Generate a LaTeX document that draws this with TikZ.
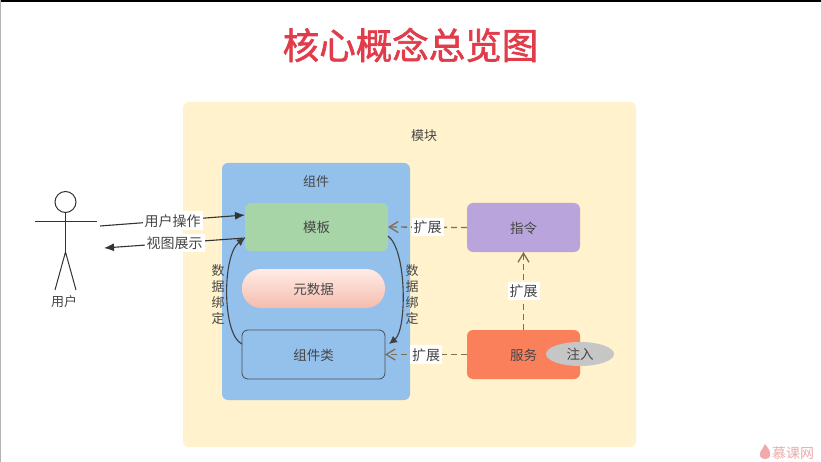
\documentclass[tikz,border=0pt]{standalone}
\usepackage{xcolor}
\usepackage{fontspec}
\usetikzlibrary{arrows.meta,shapes.geometric}
\setmainfont{Noto Sans CJK SC}
\newfontfamily\titlefont[FakeBold=1.6]{Noto Sans CJK SC}
\definecolor{titlered}{RGB}{224, 60, 74}
\definecolor{modulebg}{RGB}{255, 242, 204}
\definecolor{compblue}{RGB}{148, 192, 236}
\definecolor{tplgreen}{RGB}{168, 213, 168}
\definecolor{dirpurple}{RGB}{185, 165, 220}
\definecolor{srvorange}{RGB}{250, 128, 92}
\definecolor{injectgray}{RGB}{198, 198, 198}
\definecolor{inktext}{RGB}{70, 70, 70}
\definecolor{markred}{RGB}{240, 170, 170}
\definecolor{dashbrown}{RGB}{125, 110, 85}
\definecolor{peachtop}{RGB}{255, 236, 230}
\definecolor{peachbottom}{RGB}{245, 188, 174}
\begin{document}
\begin{tikzpicture}[x=1pt, y=-1pt,
    panel/.style={rounded corners=6pt, inner sep=0pt, outer sep=0pt, text=inktext, text height=13pt, text depth=1.5pt, font=\fontsize{13.5}{16}\selectfont},
    txt/.style={text=inktext, inner sep=0pt, align=center, font=\fontsize{13}{16}\selectfont},
    tag/.style={text=inktext, fill=white, inner sep=2pt, text height=13pt, text depth=1.5pt, font=\fontsize{14}{16}\selectfont},
    stickman/.style={draw=black!80, line width=1pt},
    userflow/.style={draw=black!80, line width=1.1pt, -{Latex[length=10pt,width=8pt]}},
    bindflow/.style={draw=black!75, line width=1.1pt, -{Latex[length=8pt,width=8pt]}},
    extendflow/.style={draw=dashbrown, line width=1.3pt, dashed, dash pattern=on 6pt off 4pt, -{Straight Barb[length=9pt,width=11pt]}}]
  \useasboundingbox (0,0) rectangle (821,462);
  \fill[white] (0,0) rectangle (821,462);
  \fill[black] (0,0) rectangle (821,2);
  \fill[gray!60] (0,0) rectangle (1,462);

  \node[titlered, inner sep=0pt, font=\fontsize{36.5}{40}\titlefont] (title) at (410.5,45) {核心概念总览图};

  \node[panel, fill=modulebg, minimum width=453pt, minimum height=345pt] (module) at (409.5,274.5) {};
  \node[txt] (modulelabel) at (424,135.5) {模块};
  \node[panel, fill=compblue, minimum width=188pt, minimum height=237pt] (component) at (316,281.5) {};
  \node[txt] (componentlabel) at (316,181.5) {组件};

  \node[panel, fill=tplgreen, minimum width=143pt, minimum height=48pt] (template) at (316.5,227) {模板};
  \node[panel, rounded corners=19pt, top color=peachtop, bottom color=peachbottom, minimum width=143pt, minimum height=39pt] (metadata) at (313.5,288.5) {元数据};
  \node[panel, draw=black!70, line width=0.8pt, minimum width=143pt, minimum height=49pt] (compclass) at (313.5,354.5) {组件类};
  \node[panel, fill=dirpurple, minimum width=113pt, minimum height=49pt] (directive) at (523.5,227.5) {指令};
  \node[panel, fill=srvorange, minimum width=113pt, minimum height=49pt] (service) at (523.5,354.5) {服务};
  \node[ellipse, fill=injectgray, inner sep=0pt, minimum width=68pt, minimum height=24pt, text=inktext, font=\fontsize{13.5}{16}\selectfont] (inject) at (580,354) {注入};

  \node[circle, stickman, fill=white, inner sep=0pt, minimum size=21pt] (head) at (65.5,202) {};
  \coordinate (hip) at (65.5,252);
  \coordinate (handl) at (35,222);
  \coordinate (handr) at (97,222);
  \coordinate (footl) at (55,290);
  \coordinate (footr) at (76,290);
  \draw[stickman] (head) -- (hip);
  \draw[stickman] (handl) -- (handr);
  \draw[stickman] (footl) -- (hip) -- (footr);
  \node[txt] (userlabel) at (64,301.5) {用户};

  \coordinate (opstart) at (100,226);
  \coordinate (viewend) at (104,248);
  \draw[userflow] (opstart) -- node[tag, midway] (oplabel) {用户操作} ([yshift=-12pt]template.north west);
  \draw[userflow] ([yshift=13pt]template.south west) -- node[tag, midway] (viewlabel) {视图展示} (viewend);

  \draw[bindflow] ([yshift=-14pt]compclass.north west) .. controls (222,335) and (222,255) .. ([yshift=13pt]template.south west);
  \draw[bindflow] ([yshift=15pt]template.south east) .. controls (407,250) and (407,330) .. ([xshift=4pt,yshift=-14pt]compclass.north east);
  \node[txt] (bindleft) at (218,294.5) {数\\据\\绑\\定};
  \node[txt] (bindright) at (412,294.5) {数\\据\\绑\\定};

  \draw[extendflow] (directive.west) -- node[tag, pos=0.5] (extendtpl) {扩展} (template.east);
  \draw[extendflow] (service.west) -- node[tag, pos=0.5] (extendclass) {扩展} (compclass.east);
  \draw[extendflow] (service.north) -- node[tag, pos=0.5] (extenddir) {扩展} (directive.south);

  \fill[markred] (765,444) .. controls (769,449) and (771,452) .. (770,456) .. controls (769,460) and (761,460) .. (760,456) .. controls (759,452) and (762,450) .. (765,444);
  \node[text=markred, inner sep=0pt, font=\fontsize{14}{16}\selectfont] (watermark) at (793,453) {慕课网};
\end{tikzpicture}
\end{document}
